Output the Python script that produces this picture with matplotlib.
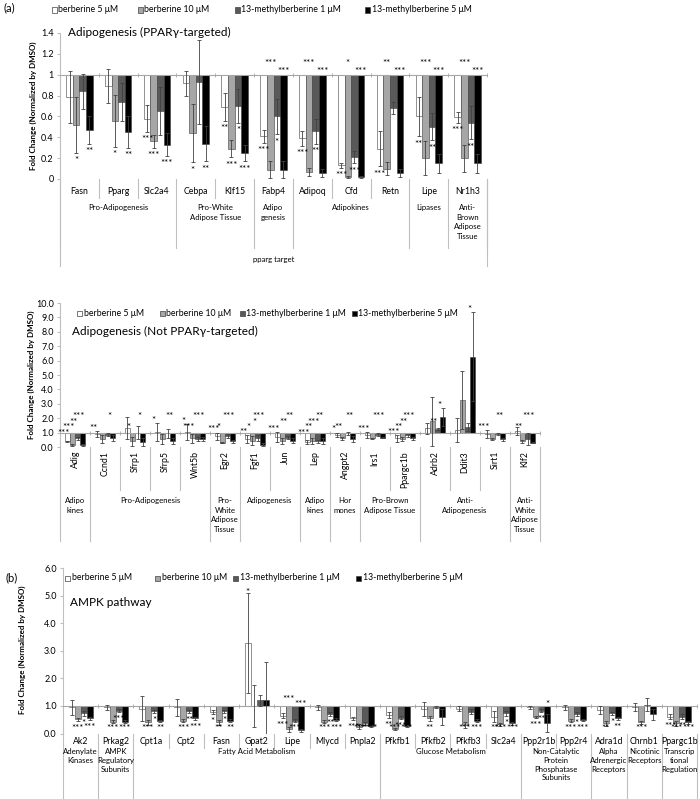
import matplotlib
matplotlib.use("Agg")
import matplotlib.pyplot as plt
from matplotlib.patches import Rectangle
from matplotlib.transforms import blended_transform_factory
import numpy as np

plt.rcParams['font.family'] = ['Lato', 'DejaVu Sans']

W, H = 700, 799

series_names = ['berberine 5 μM', 'berberine 10 μM',
                '13-methylberberine 1 μM', '13-methylberberine 5 μM']
series_colors = ['#ffffff', '#a6a6a6', '#595959', '#000000']

# ---- (a) top: PPARg-targeted ----
genes_a = ['Fasn', 'Pparg', 'Slc2a4', 'Cebpa', 'Klf15', 'Fabp4', 'Adipoq', 'Cfd', 'Retn', 'Lipe', 'Nr1h3']
a_b5 = [0.79, 0.89, 0.58, 0.92, 0.69, 0.41, 0.39, 0.13, 0.29, 0.60, 0.59]
a_b5_err = [0.25, 0.16, 0.13, 0.12, 0.13, 0.06, 0.07, 0.02, 0.17, 0.19, 0.05]
a_b10 = [0.52, 0.56, 0.36, 0.44, 0.29, 0.09, 0.07, 0.02, 0.10, 0.20, 0.20]
a_b10_err = [0.27, 0.25, 0.06, 0.28, 0.08, 0.08, 0.04, 0.01, 0.06, 0.16, 0.13]
a_m1 = [0.84, 0.74, 0.65, 0.93, 0.70, 0.60, 0.46, 0.21, 0.68, 0.50, 0.54]
a_m1_err = [0.17, 0.18, 0.23, 0.40, 0.16, 0.17, 0.12, 0.06, 0.06, 0.13, 0.16]
a_m5 = [0.47, 0.45, 0.33, 0.34, 0.25, 0.09, 0.06, 0.02, 0.06, 0.15, 0.15]
a_m5_err = [0.13, 0.15, 0.11, 0.17, 0.08, 0.08, 0.04, 0.01, 0.04, 0.09, 0.09]
a_b5_sig = ['', '', '***', '', '**', '***', '***', '***', '***', '**', '***']
a_b10_sig = ['*', '*', '***', '*', '***', '***', '***', '*', '**', '***', '***']
a_m1_sig = ['', '', '', '', '*', '*', '**', '***', '', '**', '**']
a_m5_sig = ['**', '**', '***', '**', '***', '***', '***', '***', '***', '***', '***']
groups_a = ['Pro-Adipogenesis', 'Pro-White\nAdipose Tissue', 'Adipo\ngenesis', 'Adipokines',
            'Lipases', 'Anti-\nBrown\nAdipose\nTissue']
group_sizes_a = [3, 2, 1, 3, 1, 1]

# ---- (a) bottom: not PPARg-targeted ----
genes_n = ['Adig', 'Ccnd1', 'Sfrp1', 'Sfrp5', 'Wnt5b', 'Egr2', 'Fgf1', 'Jun', 'Lep', 'Angpt2',
           'Irs1', 'Ppargc1b', 'Adrb2', 'Ddit3', 'Sirt1', 'Klf2']
n_b5 = [0.40, 0.90, 1.30, 1.05, 1.05, 0.75, 0.55, 0.70, 0.35, 0.85, 0.85, 0.60, 1.30, 1.18, 0.90, 1.10]
n_b5_err = [0.05, 0.20, 0.75, 0.60, 0.55, 0.25, 0.30, 0.35, 0.15, 0.15, 0.20, 0.25, 0.40, 0.80, 0.25, 0.30]
n_b10 = [0.15, 0.55, 0.40, 0.55, 0.60, 0.30, 0.45, 0.40, 0.40, 0.60, 0.60, 0.55, 1.80, 3.26, 0.55, 0.40]
n_b10_err = [0.05, 0.25, 0.30, 0.35, 0.30, 0.05, 0.30, 0.20, 0.20, 0.10, 0.05, 0.15, 1.70, 2.00, 0.05, 0.10]
n_m1 = [0.60, 0.85, 1.00, 0.95, 0.55, 0.75, 0.65, 0.65, 0.40, 0.95, 0.85, 0.80, 1.25, 1.40, 0.90, 0.55]
n_m1_err = [0.10, 0.10, 0.45, 0.30, 0.15, 0.15, 0.20, 0.10, 0.10, 0.10, 0.10, 0.10, 0.10, 0.30, 0.05, 0.40]
n_m5 = [0.15, 0.60, 0.35, 0.40, 0.55, 0.40, 0.15, 0.45, 0.40, 0.55, 0.65, 0.60, 2.08, 6.26, 0.55, 0.30]
n_m5_err = [0.05, 0.20, 0.30, 0.20, 0.15, 0.10, 0.10, 0.15, 0.20, 0.20, 0.05, 0.10, 0.60, 3.10, 0.10, 0.05]
n_b5_sig = ['***', '**', '', '*', '*', '***', '**', '***', '***', '*', '***', '***', '', '', '***', '']
n_b10_sig = ['***', '', '*', '', '***', '*', '*', '', '**', '**', '', '**', '', '', '', '**']
n_m1_sig = ['**', '', '', '', '', '', '*', '**', '***', '', '', '**', '**', '', '', '']
n_m5_sig = ['***', '*', '*', '**', '***', '***', '***', '**', '**', '**', '***', '***', '*', '*', '**', '***']
groups_n = ['Adipo\nkines', 'Pro-Adipogenesis', 'Pro-\nWhite\nAdipose\nTissue', 'Adipogenesis',
            'Adipo\nkines', 'Hor\nmones', 'Pro-Brown\nAdipose Tissue', 'Anti-\nAdipogenesis',
            'Anti-\nWhite\nAdipose\nTissue']
group_sizes_n = [1, 4, 1, 2, 1, 1, 2, 3, 1]

# ---- (b) AMPK pathway ----
genes_b = ['Ak2', 'Prkag2', 'Cpt1a', 'Cpt2', 'Fasn', 'Gpat2', 'Lipe', 'Mlycd', 'Pnpla2', 'Pfkfb1',
           'Pfkfb2', 'Pfkfb3', 'Slc2a4', 'Ppp2r1b', 'Ppp2r4', 'Adra1d', 'Chrnb1', 'Ppargc1b']
b_b5 = [0.95, 0.95, 0.90, 0.95, 0.78, 3.28, 0.65, 0.95, 0.55, 0.67, 0.90, 0.90, 0.60, 0.95, 0.95, 0.85, 0.95, 0.61]
b_b5_err = [0.28, 0.08, 0.45, 0.30, 0.08, 1.80, 0.10, 0.08, 0.06, 0.10, 0.25, 0.10, 0.20, 0.05, 0.10, 0.15, 0.15, 0.08]
b_b10 = [0.51, 0.43, 0.40, 0.46, 0.40, 1.00, 0.15, 0.43, 0.25, 0.16, 0.55, 0.31, 0.34, 0.60, 0.46, 0.37, 0.40, 0.37]
b_b10_err = [0.05, 0.05, 0.08, 0.05, 0.10, 0.75, 0.08, 0.05, 0.08, 0.05, 0.08, 0.10, 0.05, 0.05, 0.05, 0.10, 0.05, 0.08]
b_m1 = [0.73, 0.83, 0.80, 0.80, 0.80, 1.20, 0.46, 0.70, 0.37, 0.58, 0.97, 0.79, 0.73, 0.83, 0.70, 0.73, 1.05, 0.61]
b_m1_err = [0.08, 0.05, 0.05, 0.05, 0.05, 0.20, 0.05, 0.08, 0.05, 0.05, 0.03, 0.10, 0.08, 0.05, 0.08, 0.05, 0.25, 0.08]
b_m5 = [0.55, 0.43, 0.45, 0.55, 0.46, 1.20, 0.12, 0.50, 0.27, 0.27, 0.60, 0.46, 0.37, 0.37, 0.49, 0.55, 0.70, 0.40]
b_m5_err = [0.05, 0.05, 0.05, 0.05, 0.05, 1.40, 0.05, 0.05, 0.05, 0.05, 0.30, 0.05, 0.05, 0.33, 0.05, 0.05, 0.20, 0.05]
b_b5_sig = ['', '', '', '', '*', '*', '***', '', '***', '**', '', '', '**', '', '', '', '', '***']
b_b10_sig = ['***', '***', '***', '***', '**', '', '***', '***', '***', '***', '**', '***', '***', '***', '***', '**', '***', '***']
b_m1_sig = ['*', '***', '*', '**', '*', '', '***', '**', '***', '***', '', '', '*', '**', '*', '*', '', '**']
b_m5_sig = ['***', '***', '**', '***', '**', '', '***', '***', '***', '***', '', '***', '***', '*', '***', '**', '', '***']
groups_b = ['Adenylate\nKinases', 'AMPK\nRegulatory\nSubunits', 'Fatty Acid Metabolism', 'Glucose Metabolism',
            'Non-Catalytic\nProtein\nPhosphatase\nSubunits', 'Alpha\nAdrenergic\nReceptors',
            'Nicotinic\nReceptors', 'Transcrip\ntional\nRegulation']
group_sizes_b = [1, 1, 7, 4, 2, 1, 1, 1]

LINE = '#bfbfbf'
BAR_W = 0.17

fig = plt.figure(figsize=(7, 7.99), dpi=100)


def fx(px):
    return px / W


def fy(py):
    return 1 - py / H


def make_axes(left, right, top, bottom):
    return fig.add_axes([fx(left), fy(bottom), fx(right - left), (bottom - top) / H])


def style_axes(ax, n, ymax, yticks, fmt):
    ax.set_xlim(0, n)
    ax.set_ylim(0, ymax)
    for s in ['top', 'right']:
        ax.spines[s].set_visible(False)
    ax.spines['bottom'].set_position(('data', 1))
    ax.spines['bottom'].set_color('#a6a6a6')
    ax.spines['bottom'].set_linewidth(0.8)
    ax.spines['left'].set_color(LINE)
    ax.spines['left'].set_linewidth(0.8)
    ax.set_xticks(np.arange(n + 1))
    ax.set_xticklabels([])
    ax.tick_params(axis='x', length=2.5, direction='inout', color='#a6a6a6', width=0.6)
    ax.set_yticks(yticks)
    ax.set_yticklabels([fmt(v) for v in yticks])
    ax.tick_params(axis='y', length=2.5, labelsize=6.5, color=LINE, pad=2)
    ax.patch.set_alpha(0)


def draw_bars(ax, vals, errs):
    n = len(vals[0])
    x = np.arange(n) + 0.5
    for k in range(4):
        xk = x + (k - 1.5) * BAR_W
        v = np.array(vals[k])
        ax.bar(xk, v - 1, bottom=1, width=BAR_W, color=series_colors[k],
               edgecolor='#404040', linewidth=0.4, zorder=2)
        ax.errorbar(xk, v, yerr=errs[k], fmt='none', ecolor='#404040',
                    elinewidth=0.6, capsize=1.4, capthick=0.6, zorder=3)


def star(ax, x, y, s, where):
    # 'center' puts the glyphs centred on y, 'below' hangs them under y
    off = -3.5 if where == 'center' else -6.0
    ax.annotate(s, (x, y), xytext=(0, off), textcoords='offset points',
                ha='center', va='baseline', fontsize=7, annotation_clip=False)


def draw_stars_hang(ax, vals, errs, sigs, thresh, rows, gap, floor):
    for k in range(4):
        for i, s in enumerate(sigs[k]):
            if not s:
                continue
            x = i + 0.5 + (k - 1.5) * BAR_W
            v, e = vals[k][i], errs[k][i]
            if v > 1:
                star(ax, x, v + e + gap * 2, s, 'center')
            elif v - e < thresh:
                star(ax, x, rows[k], s, 'center')
            else:
                star(ax, x, max(v - e - gap, floor), s, 'below')


def draw_stars_rows(ax, vals, errs, sigs, rows):
    for k in range(4):
        for i, s in enumerate(sigs[k]):
            if not s:
                continue
            x = i + 0.5 + (k - 1.5) * BAR_W - 0.12
            top = vals[k][i] + errs[k][i]
            y = max(rows[k], top + 0.35)
            star(ax, x, y, s, 'center')


def draw_categories(ax, genes, groups, sizes, y0, gene_y, gene_end, group_y, group_end,
                    rotate=False, linespacing=1.4, group_fs=5.6):
    tr = blended_transform_factory(ax.transData, fig.transFigure)
    n = len(genes)
    bounds = list(np.concatenate([[0], np.cumsum(sizes)]))
    for i, g in enumerate(genes):
        if rotate:
            ax.text(i + 0.5, fy(gene_y), g, rotation=90, ha='center', va='top',
                    transform=tr, fontsize=6.3)
        else:
            ax.text(i + 0.5, fy(gene_y), g, ha='center', va='center',
                    transform=tr, fontsize=6.3)
    for b in range(1, n):
        if b not in bounds:
            ax.plot([b, b], [fy(y0), fy(gene_end)], transform=tr, color=LINE,
                    lw=0.8, clip_on=False)
    for b in bounds:
        ax.plot([b, b], [fy(y0), fy(group_end)], transform=tr, color=LINE,
                lw=0.8, clip_on=False)
    for j, lab in enumerate(groups):
        xc = (bounds[j] + bounds[j + 1]) / 2
        ax.text(xc, fy(group_y), lab, ha='center', va='top', multialignment='center',
                linespacing=linespacing, transform=tr, fontsize=group_fs)
    return tr


def draw_legend(xs, y):
    for k, (x, name) in enumerate(zip(xs, series_names)):
        fig.add_artist(Rectangle((fx(x), fy(y + 2.5)), fx(5), 5 / H,
                                 transform=fig.transFigure, facecolor=series_colors[k],
                                 edgecolor='#404040', linewidth=0.5))
        fig.text(fx(x + 6.5), fy(y), name, fontsize=6.3, va='center', ha='left')


def ylabel(x, y):
    fig.text(fx(x), fy(y), 'Fold Change (Normalized by DMSO)', rotation=90,
             fontsize=5.8, fontweight='bold', ha='center', va='center')


# ---------- panel (a) top ----------
ax1 = make_axes(60, 487, 33, 179)
style_axes(ax1, len(genes_a), 1.4, np.round(np.arange(0, 1.41, 0.2), 1), lambda v: f'{v:g}')
vals = [a_b5, a_b10, a_m1, a_m5]
errs = [a_b5_err, a_b10_err, a_m1_err, a_m5_err]
draw_bars(ax1, vals, errs)
draw_stars_hang(ax1, vals, errs, [a_b5_sig, a_b10_sig, a_m1_sig, a_m5_sig],
                0.08, [1.13, 1.13, 1.05, 1.05], 0.02, 0.07)
tr1 = draw_categories(ax1, genes_a, groups_a, group_sizes_a, 179, 192, 198, 204, 248,
                      linespacing=1.45)
for b in [0, len(genes_a)]:
    ax1.plot([b, b], [fy(179), fy(266)], transform=tr1, color=LINE, lw=0.8, clip_on=False)
ax1.text(len(genes_a) / 2, fy(260), 'pparg target', ha='center', va='center',
         transform=tr1, fontsize=5.6)
draw_legend([52, 138, 235, 365], 10)
fig.text(fx(4), fy(8), '(a)', fontsize=8, va='center')
fig.text(fx(68), fy(32), 'Adipogenesis (PPARγ-targeted)', fontsize=8.5, va='center')
ylabel(33, 106)

# ---------- panel (a) bottom ----------
ax2 = make_axes(60, 540, 303, 447)
style_axes(ax2, len(genes_n), 10, np.arange(0, 10.1, 1.0), lambda v: f'{v:.1f}')
vals = [n_b5, n_b10, n_m1, n_m5]
errs = [n_b5_err, n_b10_err, n_m1_err, n_m5_err]
draw_bars(ax2, vals, errs)
draw_stars_rows(ax2, vals, errs, [n_b5_sig, n_b10_sig, n_m1_sig, n_m5_sig],
                [1.1, 1.55, 1.9, 2.3])
draw_categories(ax2, genes_n, groups_n, group_sizes_n, 447, 451, 490, 497, 541,
                rotate=True, linespacing=1.45)
draw_legend([77, 160, 240, 352], 313)
fig.text(fx(72), fy(331), 'Adipogenesis (Not PPARγ-targeted)', fontsize=8.5, va='center')
ylabel(31, 375)

# ---------- panel (b) ----------
ax3 = make_axes(63, 697, 568, 733.5)
style_axes(ax3, len(genes_b), 6, np.arange(0, 6.1, 1.0), lambda v: f'{v:.1f}')
vals = [b_b5, b_b10, b_m1, b_m5]
errs = [b_b5_err, b_b10_err, b_m1_err, b_m5_err]
draw_bars(ax3, vals, errs)
draw_stars_hang(ax3, vals, errs, [b_b5_sig, b_b10_sig, b_m1_sig, b_m5_sig],
                0.1, [1.33, 1.33, 1.12, 1.12], 0.06, 0.4)
draw_categories(ax3, genes_b, groups_b, group_sizes_b, 733.5, 742, 748, 748, 799,
                linespacing=1.3)
draw_legend([65, 155, 233, 356], 578)
fig.text(fx(5), fy(578), '(b)', fontsize=8, va='center')
fig.text(fx(70), fy(603), 'AMPK pathway', fontsize=8.5, va='center')
ylabel(22, 650)

fig.savefig('out.png', dpi=100, facecolor='white')
